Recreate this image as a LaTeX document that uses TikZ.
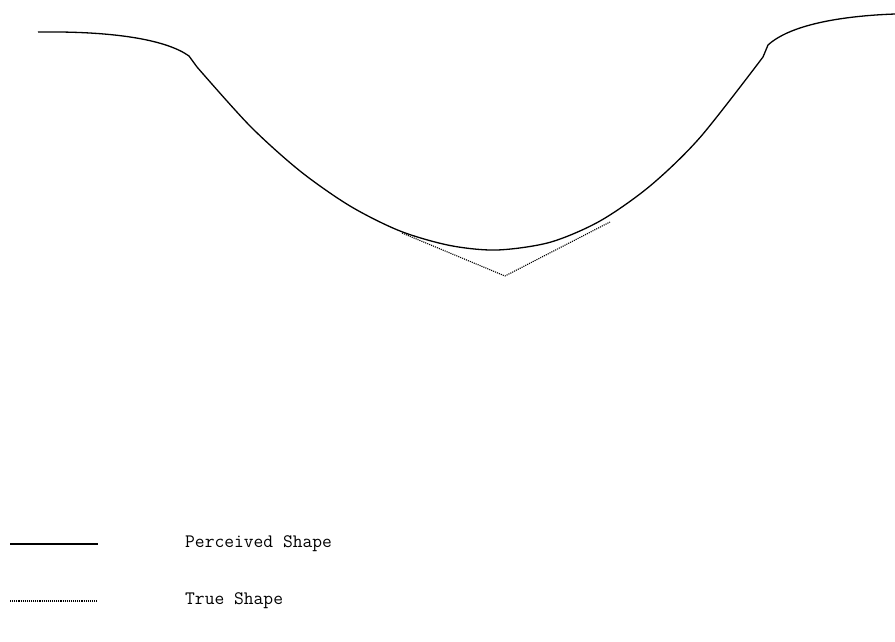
\documentclass[tikz,border=0pt]{standalone}
\usepackage{tikz}
\usetikzlibrary{positioning}
\tikzset{
  perceived/.style={line width=1.3pt, line join=round},
  trueshape/.style={densely dotted, line width=1.1pt},
  keytext/.style={font=\fontsize{19}{22}\selectfont\ttfamily, anchor=west, inner sep=0pt},
}

\begin{document}
\begin{tikzpicture}[x=1pt, y=-1pt]
  \useasboundingbox (0,0) rectangle (895,642);

  % perceived shape
  \draw[perceived] (38,32) .. controls (120,31) and (168,41) .. (189,56) -- (197,67);
  \draw[perceived] plot[smooth] coordinates {(197,67) (250,126) (300,171) (350,206)
      (400,231) (450,245.5) (497,250) (550,242.3) (600,221) (650,186) (700,137.5) (763,57)};
  \draw[perceived] (763,57) -- (768,45) .. controls (790,25) and (840,16) .. (895,14);

  % true shape
  \draw[trueshape] (402,233) -- (505,276) -- (610,222);

  % key
  \node (kperc) [keytext] at (185,544) {Perceived Shape};
  \node (ktrue) [keytext] at (185,601) {True Shape};
  \coordinate (lp) at (10,544);
  \coordinate (lt) at (10,601);
  \draw[perceived] (lp) -- ++(88,0);
  \draw[trueshape] (lt) -- ++(88,0);
\end{tikzpicture}
\end{document}
